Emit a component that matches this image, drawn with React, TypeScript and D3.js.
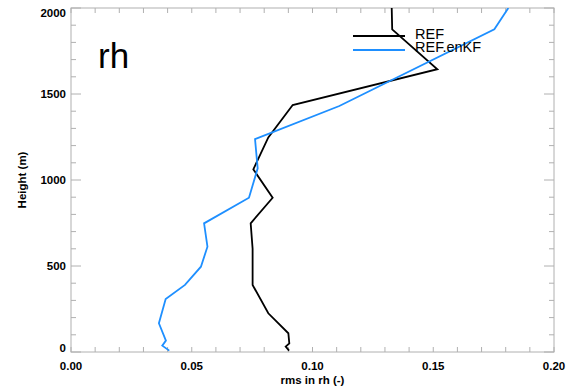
import React from "react";
import * as d3 from "d3";

const refHeights = [2000, 1876, 1644, 1436, 1248, 1062, 897, 748, 600, 500, 390, 225, 109, 50, 31, 8];
const refValues = [0.1328, 0.1330, 0.1517, 0.0918, 0.0817, 0.0755, 0.0835, 0.0744, 0.0752, 0.0752, 0.0752, 0.0817, 0.0900, 0.0904, 0.0889, 0.0903];

const enkfHeights = [2000, 1876, 1430, 1238, 1068, 897, 748, 612, 496, 390, 308, 167, 66, 37, 8];
const enkfValues = [0.1811, 0.1753, 0.1111, 0.0762, 0.0773, 0.0737, 0.0551, 0.0565, 0.0538, 0.0472, 0.0392, 0.0364, 0.0393, 0.0378, 0.0407];

const xTickLabels = ["0.00", "0.05", "0.10", "0.15", "0.20"];
const yTickLabels = ["0", "500", "1000", "1500", "2000"];
const seriesNames = ["REF", "REF.enKF"];
const seriesColors = ["#000000", "#1e8fff"];

const W = 567, H = 391;
const L = 71, R = 554, T = 8, B = 352;

export default function App() {
  const x = d3.scaleLinear().domain([0, 0.2]).range([L, R]);
  const y = d3.scaleLinear().domain([0, 2000]).range([B, T]);
  const xMinor = d3.range(0, 0.2001, 0.01);
  const yMinor = d3.range(0, 2001, 100);
  const line = d3.line<[number, number]>().x(d => x(d[0])).y(d => y(d[1]));
  const refPts = refValues.map((v, i) => [v, refHeights[i]] as [number, number]);
  const enkfPts = enkfValues.map((v, i) => [v, enkfHeights[i]] as [number, number]);
  const axisColor = "#b0b0b0";
  const font = "'Liberation Sans', Arial, sans-serif";
  return (
    <svg width={W} height={H} style={{ position: "absolute", left: 0, top: 0, background: "#fff" }}>
      <defs>
        <clipPath id="plot"><rect x={L} y={T} width={R - L} height={B - T} /></clipPath>
      </defs>
      <rect x={L} y={T} width={R - L} height={B - T} fill="none" stroke={axisColor} strokeWidth={1} />
      {xMinor.map((v, i) => (
        <g key={"xt" + i} stroke={axisColor} strokeWidth={1}>
          <line x1={x(v)} x2={x(v)} y1={B} y2={B - 5} />
          <line x1={x(v)} x2={x(v)} y1={T} y2={T + 5} />
        </g>
      ))}
      {yMinor.map((v, i) => {
        const len = i % 5 === 0 ? 10 : 5;
        return (
          <g key={"yt" + i} stroke={axisColor} strokeWidth={1}>
            <line x1={L} x2={L + len} y1={y(v)} y2={y(v)} />
            <line x1={R} x2={R - len} y1={y(v)} y2={y(v)} />
          </g>
        );
      })}
      {xTickLabels.map((t, i) => (
        <text key={"xl" + i} x={x(+t)} y={370} textAnchor="middle" fontFamily={font} fontWeight="bold" fontSize={11.5} fill="#000">{t}</text>
      ))}
      {yTickLabels.map((t, i) => {
        const shift = i === 0 ? -4 : i === yTickLabels.length - 1 ? 5 : 0;
        return (
          <text key={"yl" + i} x={66} y={y(+t) + shift} dy="0.35em" textAnchor="end" fontFamily={font} fontWeight="bold" fontSize={11.5} fill="#000">{t}</text>
        );
      })}
      <text x={(L + R) / 2} y={384} textAnchor="middle" fontFamily={font} fontWeight="bold" fontSize={11.5}>rms in rh (-)</text>
      <text transform={`translate(26,${(T + B) / 2}) rotate(-90)`} textAnchor="middle" fontFamily={font} fontWeight="bold" fontSize={11.5}>Height (m)</text>
      <text x={98} y={68} fontFamily={font} fontSize={35}>rh</text>
      <g clipPath="url(#plot)">
        <path d={line(refPts) || ""} fill="none" stroke={seriesColors[0]} strokeWidth={1.8} />
        <path d={line(enkfPts) || ""} fill="none" stroke={seriesColors[1]} strokeWidth={1.8} />
      </g>
      {seriesNames.map((n, i) => (
        <g key={"lg" + i}>
          <line x1={353} x2={405} y1={36 + i * 14} y2={36 + i * 14} stroke={seriesColors[i]} strokeWidth={1.8} />
          <text x={415} y={39 + i * 13.3} fontFamily={font} fontSize={14.5} fill="#000">{n}</text>
        </g>
      ))}
    </svg>
  );
}
